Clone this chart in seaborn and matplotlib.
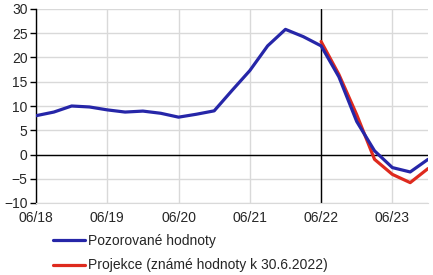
import matplotlib
matplotlib.use("Agg")
import matplotlib.pyplot as plt
import seaborn as sns
import pandas as pd
import numpy as np

# quarterly observations, index 0 = 06/18 ... 22 = 12/23
observed = [8.0, 8.75, 10.0, 9.8, 9.2, 8.75, 8.95, 8.5, 7.7, 8.3, 9.0, 13.2,
            17.3, 22.4, 25.8, 24.3, 22.4, 16.0, 6.8, 0.75, -2.7, -3.6, -1.0]
projection = [23.3, 16.5, 8.2, -1.0, -4.1, -5.8, -2.9]
proj_start = 16
tick_labels = ["06/18", "06/19", "06/20", "06/21", "06/22", "06/23"]
labels = ["Pozorované hodnoty", "Projekce (známé hodnoty k 30.6.2022)"]

sns.set_style("white")
plt.rcParams['font.family'] = ['Liberation Sans', 'DejaVu Sans']

df_obs = pd.DataFrame({"q": np.arange(len(observed)), "v": observed})
df_proj = pd.DataFrame({"q": np.arange(proj_start, proj_start + len(projection)), "v": projection})

fig = plt.figure(figsize=(4.33, 2.75), dpi=100)
ax = fig.add_axes([36/433, 1 - 203/275, (428-36)/433, (203-9)/275])

grid_c = "#d9d9d9"
for y in range(-10, 31, 5):
    ax.axhline(y, color=grid_c, lw=1, zorder=0)
for x in range(0, 23, 4):
    ax.axvline(x, color=grid_c, lw=1, zorder=0)
ax.axhline(0, color="black", lw=1, zorder=1)
ax.axvline(16, color="black", lw=1, zorder=1)

sns.lineplot(data=df_obs, x="q", y="v", ax=ax, color="#2626A8", lw=2.3, label=labels[0], zorder=3)
sns.lineplot(data=df_proj, x="q", y="v", ax=ax, color="#DE2A1E", lw=2.3, label=labels[1], zorder=2)

ax.set_xlim(0, 22)
ax.set_ylim(-10, 30)
ax.set_yticks(range(-10, 31, 5))
ax.set_xticks(range(0, 21, 4))
ax.set_xticklabels(tick_labels)
ax.set_xlabel("")
ax.set_ylabel("")
ax.tick_params(axis="y", length=4, width=1, color="black", labelsize=10, pad=2, direction="out", left=True)
ax.tick_params(axis="x", length=0, labelsize=10, pad=6)
for s in ["top", "right"]:
    ax.spines[s].set_visible(False)
ax.spines["bottom"].set_color(grid_c)
ax.spines["left"].set_color("black")
ax.spines["left"].set_linewidth(1)

handles, lbls = ax.get_legend_handles_labels()
ax.legend_.remove()
fig.legend(handles, lbls, loc="upper left", bbox_to_anchor=(53/433, 1 - 234/275),
           frameon=False, fontsize=10, handlelength=2.3, handletextpad=0.25,
           labelspacing=0.75, borderaxespad=0, borderpad=0)

fig.savefig("out.png", dpi=100)
